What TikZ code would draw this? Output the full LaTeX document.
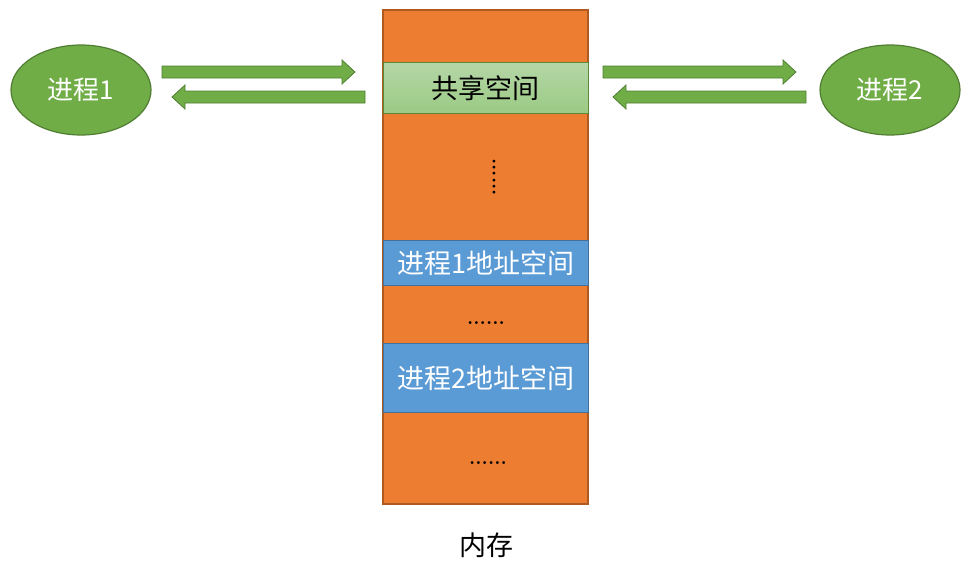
\documentclass[tikz,border=0pt]{standalone}
\usepackage{fontspec}
\newfontfamily\cjk{Noto Sans CJK SC}
\usetikzlibrary{shapes.geometric}
\definecolor{orangefill}{HTML}{ED7D31}
\definecolor{orangeedge}{HTML}{AE5A21}
\definecolor{bluefill}{HTML}{5B9BD5}
\definecolor{blueedge}{HTML}{41719C}
\definecolor{greenfill}{HTML}{70AD47}
\definecolor{greenedge}{HTML}{507E32}
\definecolor{sharetop}{HTML}{B5D6A7}
\definecolor{sharebot}{HTML}{9BCB84}
\tikzset{
  proc/.style={ellipse, draw=greenedge, fill=greenfill, line width=1.2pt,
    minimum width=140pt, minimum height=90pt, inner sep=0pt,
    text=white, font=\cjk\fontsize{26}{30}\selectfont},
  blockarrow/.style={draw=greenedge, fill=greenfill, line width=0.8pt, line join=miter},
  memtext/.style={font=\cjk\fontsize{27}{30}\selectfont},
  dots/.style={font=\bfseries\fontsize{20}{24}\selectfont, inner sep=0pt, text=black}
}
% #1 tail x, #2 tip x, #3 y, #4 direction (+1 right, -1 left)
\newcommand{\blockarr}[4]{%
  \draw[blockarrow] (#1,#3-6) -- (#2-#4*13,#3-6) -- (#2-#4*13,#3-12) -- (#2,#3)
    -- (#2-#4*13,#3+12) -- (#2-#4*13,#3+6) -- (#1,#3+6) -- cycle;}
\begin{document}
\begin{tikzpicture}[x=1pt,y=-1pt]
\useasboundingbox (0,0) rectangle (969,562);
% memory
\draw[draw=orangeedge, fill=orangefill, line width=1.2pt] (383,10) rectangle (588,504);
\node[draw=greenfill!80!black, top color=sharetop, bottom color=sharebot, line width=0.8pt,
  minimum width=205pt, minimum height=51pt, inner sep=0pt, memtext, anchor=north west] (share) at (383,62) {共享空间};
\node[draw=blueedge, fill=bluefill, line width=1.2pt, minimum width=205pt, minimum height=45pt,
  inner sep=0pt, memtext, text=white, anchor=north west] (p1mem) at (383,240) {进程1地址空间};
\node[draw=blueedge, fill=bluefill, line width=1.2pt, minimum width=205pt, minimum height=69pt,
  inner sep=0pt, memtext, text=white, anchor=north west] (p2mem) at (383,343) {进程2地址空间};
\node[dots, rotate=-90] (vdots) at (494,177) {......};
\node[dots] (hdots1) at (486,323) {......};
\node[dots] (hdots2) at (488,463) {......};
\node[memtext] (mem) at (486,545) {内存};
% processes
\node[proc] (proc1) at (81,90) {进程1};
\node[proc] (proc2) at (890,90) {进程2};
% arrows
\blockarr{162}{355}{72}{1}
\blockarr{365}{172}{97}{-1}
\blockarr{603}{796}{72}{1}
\blockarr{806}{613}{97}{-1}
\end{tikzpicture}
\end{document}
